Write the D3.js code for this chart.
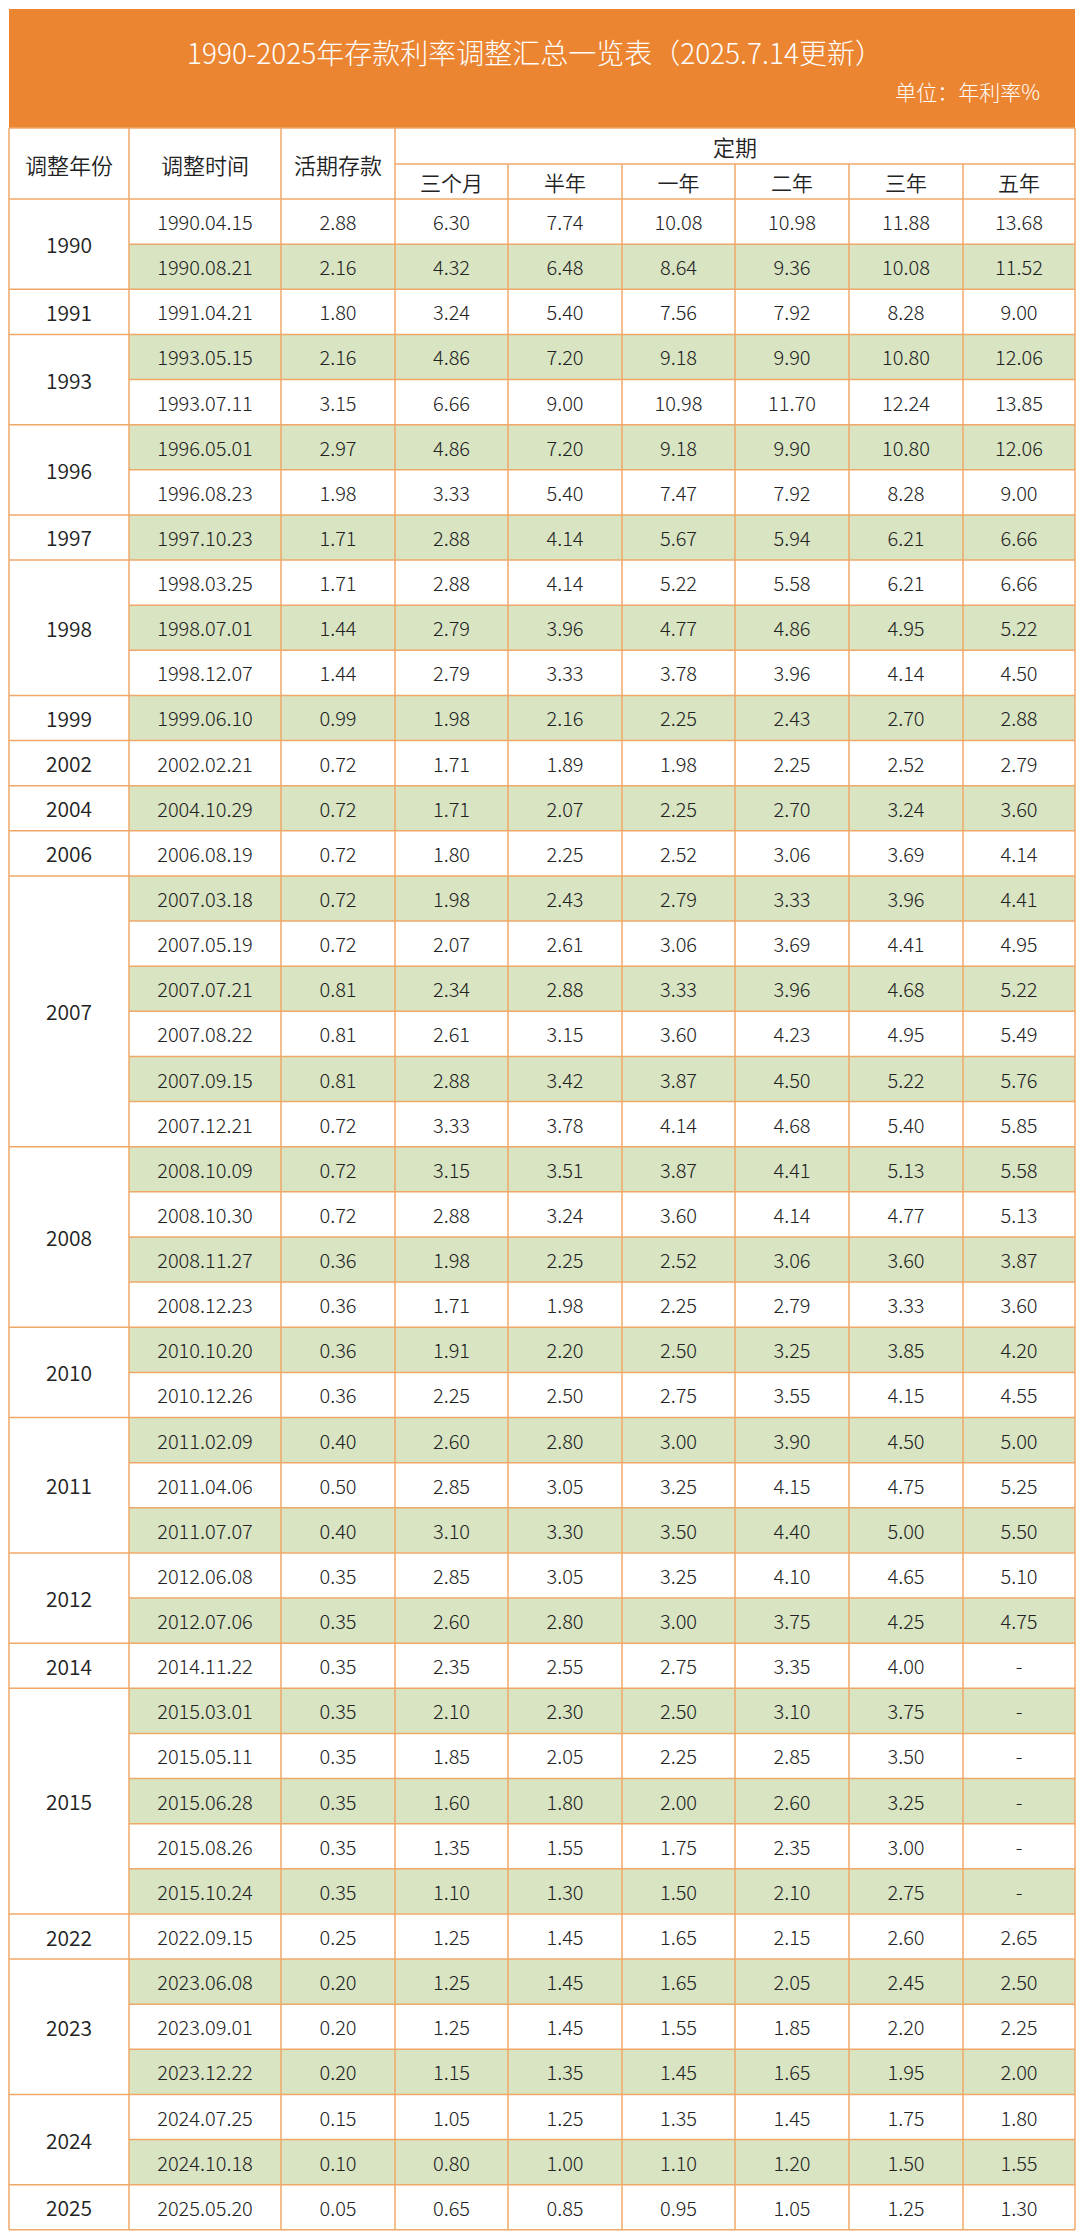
<!DOCTYPE html><html><head><meta charset="utf-8"><script src="https://cdn.jsdelivr.net/npm/d3@7"></script>
<style>body{margin:0;background:#fff}</style></head><body><svg id="c" width="1080" height="2240"></svg>
<script>
const dates=["1990.04.15","1990.08.21","1991.04.21","1993.05.15","1993.07.11","1996.05.01","1996.08.23","1997.10.23","1998.03.25","1998.07.01","1998.12.07","1999.06.10","2002.02.21","2004.10.29","2006.08.19","2007.03.18","2007.05.19","2007.07.21","2007.08.22","2007.09.15","2007.12.21","2008.10.09","2008.10.30","2008.11.27","2008.12.23","2010.10.20","2010.12.26","2011.02.09","2011.04.06","2011.07.07","2012.06.08","2012.07.06","2014.11.22","2015.03.01","2015.05.11","2015.06.28","2015.08.26","2015.10.24","2022.09.15","2023.06.08","2023.09.01","2023.12.22","2024.07.25","2024.10.18","2025.05.20"];
const demand=["2.88","2.16","1.80","2.16","3.15","2.97","1.98","1.71","1.71","1.44","1.44","0.99","0.72","0.72","0.72","0.72","0.72","0.81","0.81","0.81","0.72","0.72","0.72","0.36","0.36","0.36","0.36","0.40","0.50","0.40","0.35","0.35","0.35","0.35","0.35","0.35","0.35","0.35","0.25","0.20","0.20","0.20","0.15","0.10","0.05"];
const m3=["6.30","4.32","3.24","4.86","6.66","4.86","3.33","2.88","2.88","2.79","2.79","1.98","1.71","1.71","1.80","1.98","2.07","2.34","2.61","2.88","3.33","3.15","2.88","1.98","1.71","1.91","2.25","2.60","2.85","3.10","2.85","2.60","2.35","2.10","1.85","1.60","1.35","1.10","1.25","1.25","1.25","1.15","1.05","0.80","0.65"];
const m6=["7.74","6.48","5.40","7.20","9.00","7.20","5.40","4.14","4.14","3.96","3.33","2.16","1.89","2.07","2.25","2.43","2.61","2.88","3.15","3.42","3.78","3.51","3.24","2.25","1.98","2.20","2.50","2.80","3.05","3.30","3.05","2.80","2.55","2.30","2.05","1.80","1.55","1.30","1.45","1.45","1.45","1.35","1.25","1.00","0.85"];
const y1=["10.08","8.64","7.56","9.18","10.98","9.18","7.47","5.67","5.22","4.77","3.78","2.25","1.98","2.25","2.52","2.79","3.06","3.33","3.60","3.87","4.14","3.87","3.60","2.52","2.25","2.50","2.75","3.00","3.25","3.50","3.25","3.00","2.75","2.50","2.25","2.00","1.75","1.50","1.65","1.65","1.55","1.45","1.35","1.10","0.95"];
const y2=["10.98","9.36","7.92","9.90","11.70","9.90","7.92","5.94","5.58","4.86","3.96","2.43","2.25","2.70","3.06","3.33","3.69","3.96","4.23","4.50","4.68","4.41","4.14","3.06","2.79","3.25","3.55","3.90","4.15","4.40","4.10","3.75","3.35","3.10","2.85","2.60","2.35","2.10","2.15","2.05","1.85","1.65","1.45","1.20","1.05"];
const y3=["11.88","10.08","8.28","10.80","12.24","10.80","8.28","6.21","6.21","4.95","4.14","2.70","2.52","3.24","3.69","3.96","4.41","4.68","4.95","5.22","5.40","5.13","4.77","3.60","3.33","3.85","4.15","4.50","4.75","5.00","4.65","4.25","4.00","3.75","3.50","3.25","3.00","2.75","2.60","2.45","2.20","1.95","1.75","1.50","1.25"];
const y5=["13.68","11.52","9.00","12.06","13.85","12.06","9.00","6.66","6.66","5.22","4.50","2.88","2.79","3.60","4.14","4.41","4.95","5.22","5.49","5.76","5.85","5.58","5.13","3.87","3.60","4.20","4.55","5.00","5.25","5.50","5.10","4.75","-","-","-","-","-","-","2.65","2.50","2.25","2.00","1.80","1.55","1.30"];
const termLabels=["三个月","半年","一年","二年","三年","五年"];
const title="1990-2025年存款利率调整汇总一览表（2025.7.14更新）";
const unitLabel="单位：年利率%";

const svg=d3.select("#c");
const FONT="'Noto Sans CJK SC','Noto Sans',sans-serif";
const colX=[9,129,281,395,508,622,735,849,963,1075];
const top0=128, hdrMid=164, dataTop=199, rowH=45.13;
const y=d3.scaleLinear().domain([0,dates.length]).range([dataTop,dataTop+rowH*dates.length]);
const border="#f0a868", orange="#ec8532", green="#d8e4c2";
svg.append("rect").attr("x",9).attr("y",9).attr("width",1066).attr("height",119).attr("fill",orange);
svg.append("text").attr("x",535).attr("y",52).attr("text-anchor","middle").attr("dominant-baseline","central")
 .attr("fill","#fff").attr("font-family",FONT).attr("font-size",28).attr("font-weight",300).text(title);
svg.append("text").attr("x",1040).attr("y",91).attr("text-anchor","end").attr("dominant-baseline","central")
 .attr("fill","#fff").attr("font-family",FONT).attr("font-size",21).attr("font-weight",300).text(unitLabel);
const cols=[dates,demand,m3,m6,y1,y2,y3,y5];
dates.forEach((d,i)=>{ if(i%2===1) svg.append("rect").attr("x",colX[1]).attr("y",y(i)).attr("width",colX[9]-colX[1]).attr("height",rowH).attr("fill",green);});
const groups=[]; dates.forEach((d,i)=>{const yr=d.slice(0,4); if(groups.length&&groups[groups.length-1].yr===yr) groups[groups.length-1].n++; else groups.push({yr,start:i,n:1});});
const g=svg.append("g").attr("font-family",FONT).attr("fill","#222").attr("text-anchor","middle").attr("dominant-baseline","central");
groups.forEach(gr=>{g.append("text").attr("x",(colX[0]+colX[1])/2).attr("y",y(gr.start+gr.n/2)).attr("font-size",21).attr("font-weight",350).text(gr.yr);});
cols.forEach((arr,c)=>arr.forEach((v,i)=>{g.append("text").attr("x",(colX[c+1]+colX[c+2])/2).attr("y",y(i+0.5)).attr("font-size",20).attr("font-weight",300).text(v);}));
const hd=[["调整年份",0],["调整时间",1],["活期存款",2]];
hd.forEach(([t,c])=>g.append("text").attr("x",(colX[c]+colX[c+1])/2).attr("y",(top0+dataTop)/2).attr("font-size",22).attr("font-weight",350).text(t));
g.append("text").attr("x",(colX[3]+colX[9])/2).attr("y",(top0+hdrMid)/2).attr("font-size",22).attr("font-weight",350).text("定期");
termLabels.forEach((t,k)=>g.append("text").attr("x",(colX[k+3]+colX[k+4])/2).attr("y",(hdrMid+dataTop)/2).attr("font-size",21).attr("font-weight",350).text(t));
const L=svg.append("g").attr("stroke",border).attr("stroke-width",1.5);
const bottom=y(dates.length);
L.append("line").attr("x1",9).attr("x2",1075).attr("y1",top0).attr("y2",top0);
L.append("line").attr("x1",colX[3]).attr("x2",1075).attr("y1",hdrMid).attr("y2",hdrMid);
L.append("line").attr("x1",9).attr("x2",1075).attr("y1",dataTop).attr("y2",dataTop);
dates.forEach((d,i)=>{ if(i===0) return; const isGroup=groups.some(gr=>gr.start===i);
 L.append("line").attr("x1",isGroup?9:colX[1]).attr("x2",1075).attr("y1",y(i)).attr("y2",y(i));});
L.append("line").attr("x1",9).attr("x2",1075).attr("y1",bottom).attr("y2",bottom);
colX.forEach((x,k)=>{ const y0=(k>=4&&k<=8)?hdrMid:top0; L.append("line").attr("x1",x).attr("x2",x).attr("y1",y0).attr("y2",bottom);});
</script></body></html>
